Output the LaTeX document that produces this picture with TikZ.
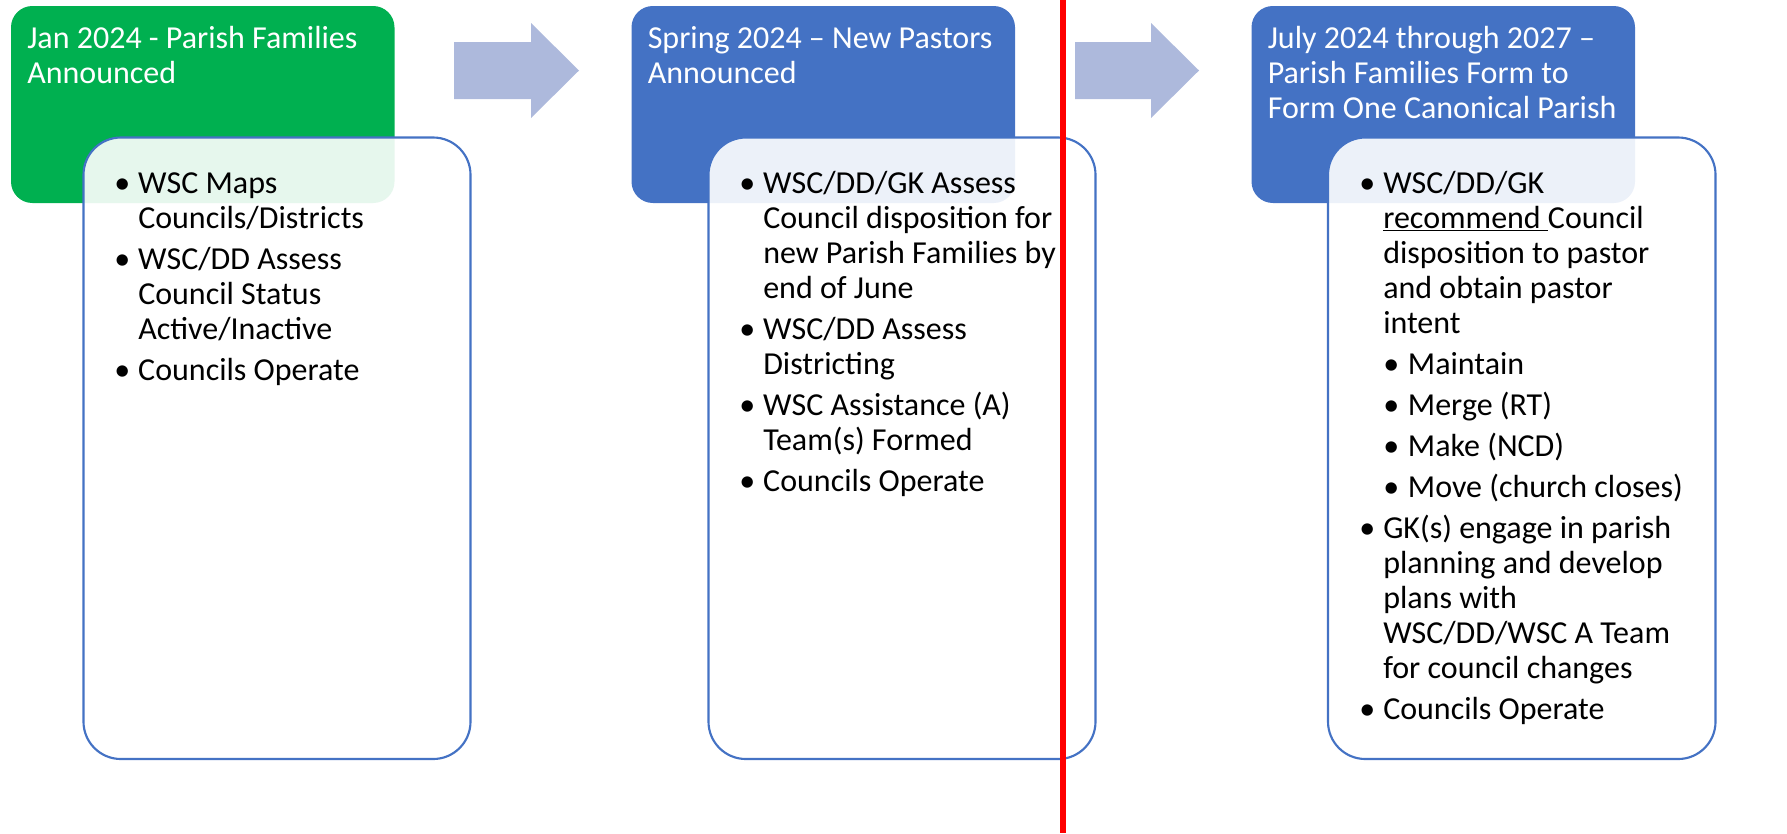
\documentclass[tikz,border=0pt]{standalone}
\usepackage{fontspec}
\setmainfont{Carlito}
\definecolor{hgreen}{RGB}{0,176,80}
\definecolor{hblue}{RGB}{68,114,196}
\definecolor{arrowc}{RGB}{173,185,220}
\definecolor{redline}{RGB}{255,0,0}
\newcommand\bodyfont{\fontsize{24}{26.25}\selectfont}
\newcommand\bul{\makebox[18pt][l]{\textbullet}}
\newcommand\ind{\hspace*{18pt}}
\newcommand\sbul{\hspace*{18pt}\makebox[18.5pt][l]{\textbullet}}
\newcommand\gp{4.5pt}
\begin{document}
\begin{tikzpicture}[x=0.75pt,y=-0.75pt,
  hdr/.style={rounded corners=16pt, draw=none},
  card/.style={draw=hblue, line width=1.6pt, fill=white, fill opacity=0.9, draw opacity=1, rounded corners=28pt},
  htext/.style={anchor=north west, inner sep=0pt, align=left, text=white, font=\bodyfont},
  btext/.style={anchor=north west, inner sep=0pt, align=left, text=black, font=\bodyfont},
  blockarrow/.style={fill=arrowc, draw=none},
  sep/.style={draw=redline, line width=4pt}]
\useasboundingbox (0,0) rectangle (1787,833);
% headers
\fill[hgreen, hdr] (11,6) rectangle (394.5,203);
\fill[hblue, hdr] (631.5,6) rectangle (1015,203);
\fill[hblue, hdr] (1251.5,6) rectangle (1635,203);
\node[htext] (h1) at (27,23.5) {\strut Jan 2024 - Parish Families\\Announced};
\node[htext] (h2) at (647.5,23.5) {\strut Spring 2024 -- New Pastors\\Announced};
\node[htext] (h3) at (1267.5,23.5) {\strut July 2024 through 2027 --\\Parish Families Form to\\Form One Canonical Parish};
% block arrows
\fill[blockarrow] (454,42) -- (531,42) -- (531,23) -- (579,70.5) -- (531,118) -- (531,99) -- (454,99) -- cycle;
\fill[blockarrow] (1075,42) -- (1151,42) -- (1151,23) -- (1199,70.5) -- (1151,118) -- (1151,99) -- (1075,99) -- cycle;
% cards
\path[card] (83.5,137.5) rectangle (470.5,759);
\path[card] (708.5,137.5) rectangle (1095.5,759);
\path[card] (1328,137.5) rectangle (1715.5,759);
\node[btext] (b1) at (114,168.5) {\strut\bul WSC Maps\\
\ind Councils/Districts\\[\gp]
\bul WSC/DD Assess\\
\ind Council Status\\
\ind Active/Inactive\\[\gp]
\bul Councils Operate};
\node[btext] (b2) at (739,168.5) {\strut\bul WSC/DD/GK Assess\\
\ind Council disposition for\\
\ind new Parish Families by\\
\ind end of June\\[\gp]
\bul WSC/DD Assess\\
\ind Districting\\[\gp]
\bul WSC Assistance (A)\\
\ind Team(s) Formed\\[\gp]
\bul Councils Operate};
\node[btext] (b3) at (1359,168.5) {\strut\bul WSC/DD/GK\\
\ind\underline{recommend\ }Council\\
\ind disposition to pastor\\
\ind and obtain pastor\\
\ind intent\\[\gp]
\sbul Maintain\\[\gp]
\sbul Merge (RT)\\[\gp]
\sbul Make (NCD)\\[\gp]
\sbul Move (church closes)\\[\gp]
\bul GK(s) engage in parish\\
\ind planning and develop\\
\ind plans with\\
\ind WSC/DD/WSC A Team\\
\ind for council changes\\[\gp]
\bul Councils Operate};
% red divider
\coordinate (rtop) at (1063,0);
\coordinate (rbot) at (1063,833);
\draw[sep] (rtop) -- (rbot);
\end{tikzpicture}
\end{document}
